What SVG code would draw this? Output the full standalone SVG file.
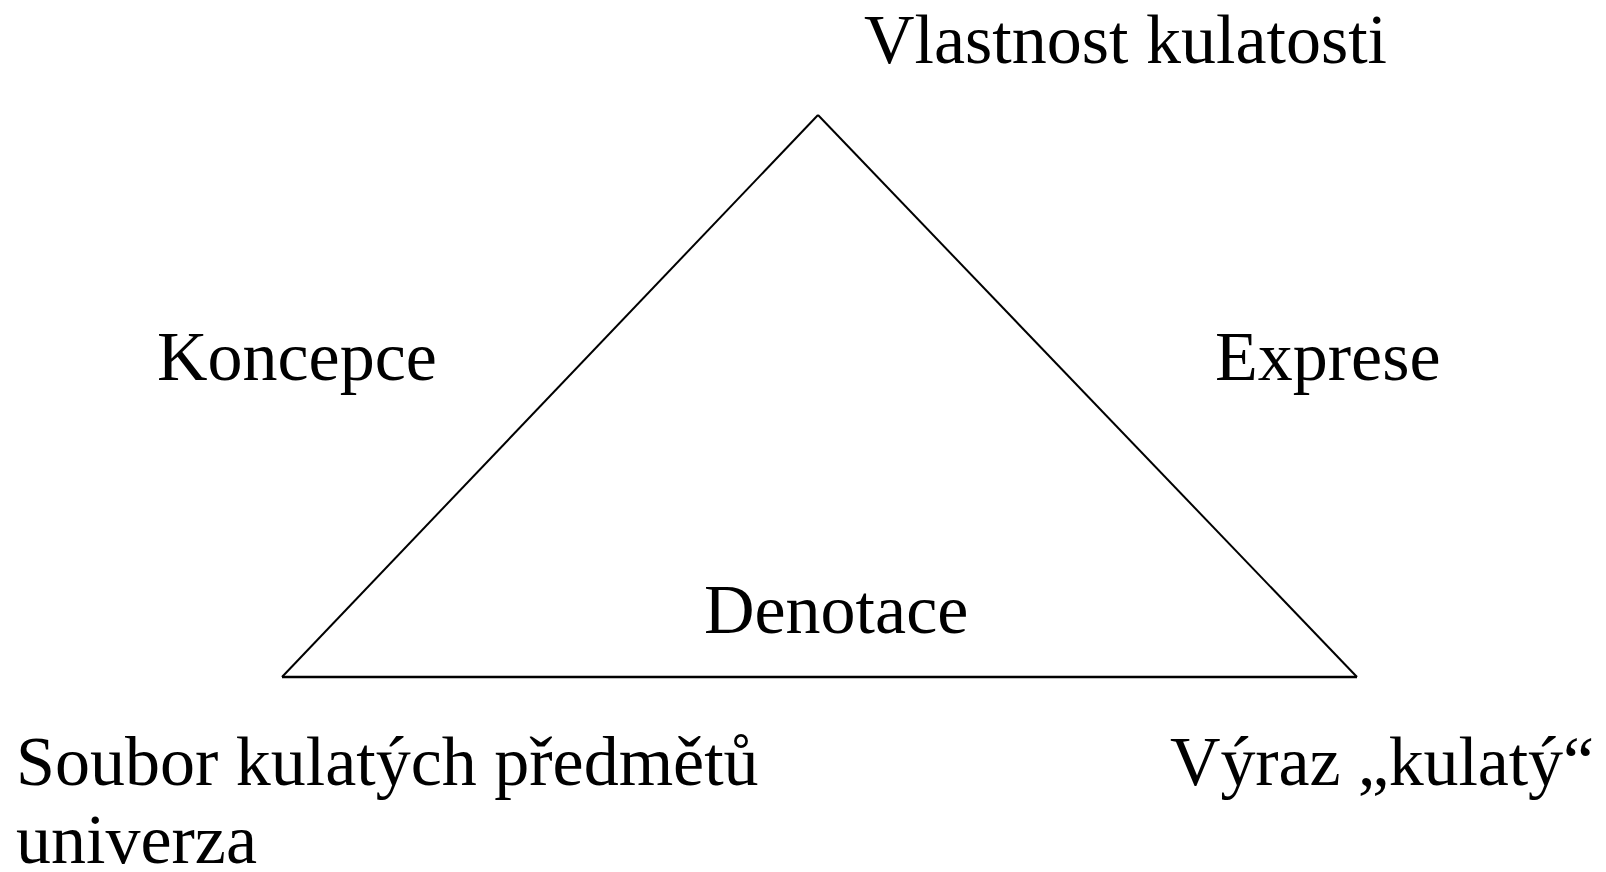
<svg xmlns="http://www.w3.org/2000/svg" width="1606" height="872" viewBox="0 0 1606 872">
<style>
text{font-family:"Liberation Serif","Times New Roman",serif;font-size:70px;fill:#000}
.edge{fill:none;stroke:#000;stroke-width:2}
</style>
<rect width="1606" height="872" fill="#fff"/>
<g id="connectors">
<line class="edge" x1="818" y1="115" x2="282" y2="677"/>
<line class="edge" x1="818" y1="115" x2="1357" y2="677"/>
<line class="edge" x1="282" y1="677" x2="1357" y2="677" style="stroke-width:2.5"/>
</g>
<g id="node-top"><text x="864" y="63">Vlastnost kulatosti</text></g>
<g id="node-left-edge"><text x="157" y="380">Koncepce</text></g>
<g id="node-right-edge"><text x="1215" y="380">Exprese</text></g>
<g id="node-bottom-edge"><text x="704" y="633">Denotace</text></g>
<g id="node-bottom-left"><text x="16" y="785">Soubor kulatých předmětů</text><text x="16" y="863">univerza</text></g>
<g id="node-bottom-right"><text x="1170" y="785" textLength="424">Výraz „kulatý“</text></g>
</svg>
